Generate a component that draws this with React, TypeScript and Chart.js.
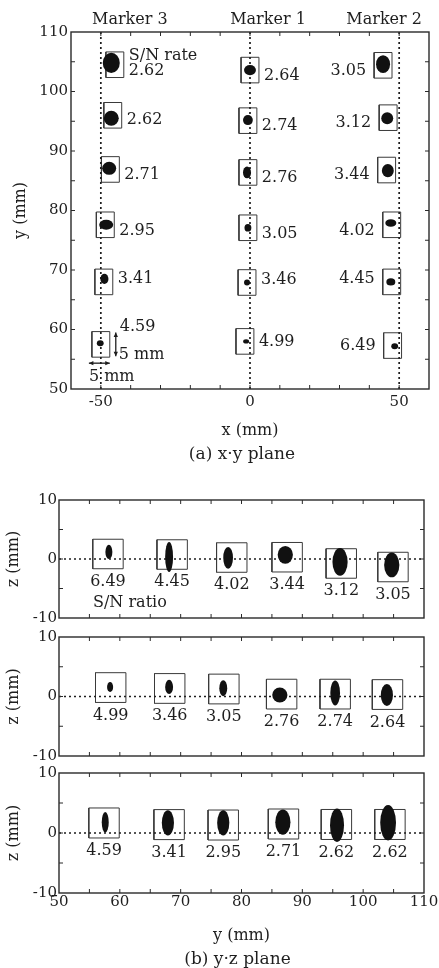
import { useEffect, useRef } from 'react';
import { Chart, registerables } from 'chart.js';

Chart.register(...registerables);

const PAGE_W = 439;
const PAGE_H = 968;
const FONT = '"DejaVu Serif", "Liberation Serif", serif';
const INK = '#1e1e1e';

// ---------------- (a) x-y plane ----------------
// every row list runs from the lowest position (y ≈ 57 mm) up to the highest (y ≈ 105 mm)
const MARKER_NAMES = ['Marker 3', 'Marker 1', 'Marker 2'];
const MARKER_X = [-50, 0, 50];

const SN_MARKER3 = [4.59, 3.41, 2.95, 2.71, 2.62, 2.62];
const SN_MARKER1 = [4.99, 3.46, 3.05, 2.76, 2.74, 2.64];
const SN_MARKER2 = [6.49, 4.45, 4.02, 3.44, 3.12, 3.05];

// centres of the 5 mm windows (mm)
const XY_WIN_X_M3 = [-50.0, -49.0, -48.5, -46.8, -46.0, -45.3];
const XY_WIN_Y_M3 = [57.5, 68.0, 77.6, 86.9, 96.0, 104.5];
const XY_WIN_X_M1 = [-1.7, -1.0, -0.7, -0.7, -0.7, 0.0];
const XY_WIN_Y_M1 = [58.0, 67.9, 77.1, 86.4, 95.1, 103.6];
const XY_WIN_X_M2 = [47.8, 47.5, 47.5, 45.8, 46.3, 44.6];
const XY_WIN_Y_M2 = [57.3, 68.0, 77.6, 86.8, 95.6, 104.4];

// measured point clouds: centre and full extent (mm)
const XY_CLOUD_X_M3 = [-50.2, -48.8, -48.2, -47.2, -46.5, -46.5];
const XY_CLOUD_Y_M3 = [57.7, 68.5, 77.6, 87.1, 95.5, 104.8];
const XY_CLOUD_DX_M3 = [2.3, 2.7, 4.7, 4.7, 5.0, 5.7];
const XY_CLOUD_DY_M3 = [1.0, 1.7, 1.7, 2.2, 2.5, 3.4];

const XY_CLOUD_X_M1 = [-1.3, -1.0, -0.7, -1.0, -0.7, 0.0];
const XY_CLOUD_Y_M1 = [58.0, 67.9, 77.1, 86.4, 95.2, 103.6];
const XY_CLOUD_DX_M1 = [2.0, 2.0, 2.3, 2.7, 3.3, 4.0];
const XY_CLOUD_DY_M1 = [0.7, 1.0, 1.3, 2.0, 1.7, 1.7];

const XY_CLOUD_X_M2 = [48.5, 47.2, 47.2, 46.2, 46.0, 44.6];
const XY_CLOUD_Y_M2 = [57.2, 68.0, 77.9, 86.7, 95.5, 104.6];
const XY_CLOUD_DX_M2 = [2.3, 3.0, 3.7, 4.0, 4.0, 4.7];
const XY_CLOUD_DY_M2 = [1.0, 1.2, 1.3, 2.2, 2.0, 3.0];

const XY_X_LABELS = [-50, 0, 50];
const XY_Y_LABELS = [50, 60, 70, 80, 90, 100, 110];

// ---------------- (b) y-z plane ----------------
// panels from top to bottom: Marker 2, Marker 1, Marker 3
const YZ_WIN_Y_M2 = [58.05, 68.6, 78.4, 87.5, 96.4, 104.9];
const YZ_WIN_Z_M2 = [0.85, 0.76, 0.25, 0.3, -0.76, -1.36];
const YZ_CLOUD_Y_M2 = [58.2, 68.1, 77.8, 87.2, 96.2, 104.7];
const YZ_CLOUD_Z_M2 = [1.2, 0.35, 0.2, 0.7, -0.5, -1.0];
const YZ_CLOUD_DY_M2 = [1.15, 1.3, 1.6, 2.5, 2.5, 2.5];
const YZ_CLOUD_DZ_M2 = [2.4, 5.1, 3.7, 3.0, 4.7, 4.2];

const YZ_WIN_Y_M1 = [58.5, 68.2, 77.1, 86.6, 95.4, 104.0];
const YZ_WIN_Z_M1 = [1.5, 1.35, 1.26, 0.4, 0.4, 0.33];
const YZ_CLOUD_Y_M1 = [58.4, 68.1, 77.0, 86.3, 95.4, 103.9];
const YZ_CLOUD_Z_M1 = [1.6, 1.6, 1.4, 0.25, 0.6, 0.25];
const YZ_CLOUD_DY_M1 = [1.0, 1.3, 1.3, 2.5, 1.6, 2.0];
const YZ_CLOUD_DZ_M1 = [1.7, 2.4, 2.7, 2.5, 4.2, 3.7];

const YZ_WIN_Y_M3 = [57.4, 68.1, 77.0, 86.9, 95.6, 104.4];
const YZ_WIN_Z_M3 = [1.67, 1.4, 1.33, 1.5, 1.42, 1.42];
const YZ_CLOUD_Y_M3 = [57.6, 67.9, 77.0, 86.8, 95.7, 104.1];
const YZ_CLOUD_Z_M3 = [1.8, 1.7, 1.7, 1.8, 1.3, 1.7];
const YZ_CLOUD_DY_M3 = [1.15, 2.0, 2.0, 2.5, 2.3, 2.6];
const YZ_CLOUD_DZ_M3 = [3.4, 4.2, 4.2, 4.2, 5.6, 5.9];

const YZ_Y_LABELS = [50, 60, 70, 80, 90, 100, 110];
const YZ_Z_LABELS = [-10, 0, 10];

// window size (mm) as drawn in each plane
const XY_WIN = { w: 6, h: 4.3 };
const YZ_WIN = { w: 5, h: 5 };

type Group = {
  sn: number[];
  winX: number[];
  winY: number[];
  cloudX: number[];
  cloudY: number[];
  cloudDX: number[];
  cloudDY: number[];
};

const XY_GROUPS: Group[] = [
  { sn: SN_MARKER3, winX: XY_WIN_X_M3, winY: XY_WIN_Y_M3, cloudX: XY_CLOUD_X_M3, cloudY: XY_CLOUD_Y_M3, cloudDX: XY_CLOUD_DX_M3, cloudDY: XY_CLOUD_DY_M3 },
  { sn: SN_MARKER1, winX: XY_WIN_X_M1, winY: XY_WIN_Y_M1, cloudX: XY_CLOUD_X_M1, cloudY: XY_CLOUD_Y_M1, cloudDX: XY_CLOUD_DX_M1, cloudDY: XY_CLOUD_DY_M1 },
  { sn: SN_MARKER2, winX: XY_WIN_X_M2, winY: XY_WIN_Y_M2, cloudX: XY_CLOUD_X_M2, cloudY: XY_CLOUD_Y_M2, cloudDX: XY_CLOUD_DX_M2, cloudDY: XY_CLOUD_DY_M2 },
];

const YZ_GROUPS: Group[] = [
  { sn: SN_MARKER2, winX: YZ_WIN_Y_M2, winY: YZ_WIN_Z_M2, cloudX: YZ_CLOUD_Y_M2, cloudY: YZ_CLOUD_Z_M2, cloudDX: YZ_CLOUD_DY_M2, cloudDY: YZ_CLOUD_DZ_M2 },
  { sn: SN_MARKER1, winX: YZ_WIN_Y_M1, winY: YZ_WIN_Z_M1, cloudX: YZ_CLOUD_Y_M1, cloudY: YZ_CLOUD_Z_M1, cloudDX: YZ_CLOUD_DY_M1, cloudDY: YZ_CLOUD_DZ_M1 },
  { sn: SN_MARKER3, winX: YZ_WIN_Y_M3, winY: YZ_WIN_Z_M3, cloudX: YZ_CLOUD_Y_M3, cloudY: YZ_CLOUD_Z_M3, cloudDX: YZ_CLOUD_DY_M3, cloudDY: YZ_CLOUD_DZ_M3 },
];

const font = (size: number) => ({ family: FONT, size, weight: 'normal' as const });
const cssFont = (size: number) => `${size}px ${FONT}`;

function windowDataset(cx: number, cy: number, w: number, h: number) {
  const l = cx - w / 2, r = cx + w / 2, b = cy - h / 2, t = cy + h / 2;
  return {
    data: [
      { x: l, y: b }, { x: r, y: b }, { x: r, y: t }, { x: l, y: t }, { x: l, y: b },
    ],
    showLine: true,
    borderColor: '#3a3a3a',
    borderWidth: 1,
    pointRadius: 0,
    fill: false,
  };
}

function dottedDataset(points: { x: number; y: number }[]) {
  return {
    data: points,
    showLine: true,
    borderColor: INK,
    borderWidth: 1.7,
    borderDash: [2, 3],
    pointRadius: 0,
    fill: false,
  };
}

// plot frame with short inward tick marks on all four sides
const framePlugin = {
  id: 'frameTicks',
  afterDatasetsDraw(chart: any) {
    const { ctx, chartArea: a, scales } = chart;
    const len = 4;
    ctx.save();
    ctx.strokeStyle = '#2a2a2a';
    ctx.lineWidth = 1;
    ctx.beginPath();
    for (const t of scales.x.ticks) {
      const p = scales.x.getPixelForValue(t.value);
      if (p <= a.left + 1 || p >= a.right - 1) continue;
      ctx.moveTo(p, a.top);
      ctx.lineTo(p, a.top + len);
      ctx.moveTo(p, a.bottom);
      ctx.lineTo(p, a.bottom - len);
    }
    for (const t of scales.y.ticks) {
      const p = scales.y.getPixelForValue(t.value);
      if (p <= a.top + 1 || p >= a.bottom - 1) continue;
      ctx.moveTo(a.left, p);
      ctx.lineTo(a.left + len, p);
      ctx.moveTo(a.right, p);
      ctx.lineTo(a.right - len, p);
    }
    ctx.stroke();
    ctx.lineWidth = 1.4;
    ctx.strokeRect(a.left, a.top, a.right - a.left, a.bottom - a.top);
    ctx.restore();
  },
};

function drawClouds(chart: any, g: Group) {
  const { ctx, scales } = chart;
  const sx = scales.x, sy = scales.y;
  ctx.save();
  ctx.fillStyle = '#111';
  g.cloudX.forEach((cx, i) => {
    const px = sx.getPixelForValue(cx);
    const py = sy.getPixelForValue(g.cloudY[i]);
    const rx = Math.abs(sx.getPixelForValue(cx + g.cloudDX[i] / 2) - px);
    const ry = Math.abs(sy.getPixelForValue(g.cloudY[i] + g.cloudDY[i] / 2) - py);
    ctx.beginPath();
    ctx.ellipse(px, py, rx, ry, 0, 0, Math.PI * 2);
    ctx.fill();
  });
  ctx.restore();
}

function arrow(ctx: CanvasRenderingContext2D, x1: number, y1: number, x2: number, y2: number) {
  const ang = Math.atan2(y2 - y1, x2 - x1);
  const head = 5;
  ctx.beginPath();
  ctx.moveTo(x1, y1);
  ctx.lineTo(x2, y2);
  ctx.stroke();
  for (const [x, y, a] of [[x1, y1, ang + Math.PI], [x2, y2, ang]] as number[][]) {
    ctx.beginPath();
    ctx.moveTo(x, y);
    ctx.lineTo(x - head * Math.cos(a - 0.45), y - head * Math.sin(a - 0.45));
    ctx.lineTo(x - head * Math.cos(a + 0.45), y - head * Math.sin(a + 0.45));
    ctx.closePath();
    ctx.fill();
  }
}

// vertical nudge (px) of the value labels, per row from bottom to top
const ROW_NUDGE = [0, -3, 6, 5, 5, 6];

const xyAnnotations = {
  id: 'xyAnnotations',
  afterDatasetsDraw(chart: any) {
    const { ctx, chartArea: a, scales } = chart;
    const sx = scales.x, sy = scales.y;
    XY_GROUPS.forEach((g) => drawClouds(chart, g));

    ctx.save();
    ctx.fillStyle = INK;
    ctx.strokeStyle = INK;
    ctx.font = cssFont(16);
    ctx.textBaseline = 'middle';

    XY_GROUPS.forEach((g, k) => {
      g.sn.forEach((v, i) => {
        const left = sx.getPixelForValue(g.winX[i] - XY_WIN.w / 2);
        const right = sx.getPixelForValue(g.winX[i] + XY_WIN.w / 2);
        const top = sy.getPixelForValue(g.winY[i] + XY_WIN.h / 2);
        const mid = sy.getPixelForValue(g.winY[i]);
        const text = v.toFixed(2);
        if (k === 2) {
          ctx.textAlign = 'right';
          ctx.fillText(text, left - 8, mid + ROW_NUDGE[i]);
        } else if (k === 0 && i === 0) {
          ctx.textAlign = 'left';
          ctx.fillText(text, right + 10, top - 5);
        } else {
          ctx.textAlign = 'left';
          ctx.fillText(text, right + 5, mid + ROW_NUDGE[i]);
        }
        if (k === 0 && i === g.sn.length - 1) {
          ctx.textAlign = 'left';
          ctx.fillText('S/N rate', right + 5, mid + ROW_NUDGE[i] - 15);
        }
      });
    });

    // 5 mm scale hints around the lowest Marker 3 window
    const g = XY_GROUPS[0];
    const L = sx.getPixelForValue(g.winX[0] - XY_WIN.w / 2);
    const R = sx.getPixelForValue(g.winX[0] + XY_WIN.w / 2);
    const T = sy.getPixelForValue(g.winY[0] + XY_WIN.h / 2);
    const B = sy.getPixelForValue(g.winY[0] - XY_WIN.h / 2);
    ctx.lineWidth = 1.3;
    arrow(ctx, R + 6, T + 1, R + 6, B - 1);
    arrow(ctx, L - 3, B + 6, R, B + 6);
    ctx.textAlign = 'left';
    ctx.fillText('5 mm', R + 9, B - 2);
    ctx.fillText('5 mm', L - 3, B + 20);
    ctx.restore();
  },
  afterDraw(chart: any) {
    const { ctx, chartArea: a, scales } = chart;
    const shift = [29, 18, -15];
    ctx.save();
    ctx.fillStyle = INK;
    ctx.textBaseline = 'middle';
    ctx.textAlign = 'center';
    ctx.font = cssFont(16);
    MARKER_NAMES.forEach((name, k) => {
      ctx.fillText(name, scales.x.getPixelForValue(MARKER_X[k]) + shift[k], a.top - 12);
    });
    ctx.font = cssFont(17);
    ctx.fillText('(a) x\u00b7y plane', (a.left + a.right) / 2 - 8, a.bottom + 66);
    ctx.restore();
  },
};

function labelCallback(list: number[]) {
  return (v: any) => (list.includes(Number(v)) ? String(v) : '');
}

function buildXY(canvas: HTMLCanvasElement) {
  const datasets: any[] = [];
  MARKER_X.forEach((m) => datasets.push(dottedDataset([{ x: m, y: 50 }, { x: m, y: 110 }])));
  XY_GROUPS.forEach((g) =>
    g.winX.forEach((x, i) => datasets.push(windowDataset(x, g.winY[i], XY_WIN.w, XY_WIN.h)))
  );
  return new Chart(canvas, {
    type: 'scatter',
    data: { datasets },
    options: {
      responsive: false,
      maintainAspectRatio: false,
      animation: false,
      events: [],
      layout: { padding: { left: 0, top: 32, right: 10, bottom: PAGE_H - 389 - 57 } },
      plugins: { legend: { display: false }, tooltip: { enabled: false } },
      scales: {
        x: {
          type: 'linear',
          min: -60,
          max: 60,
          grid: { display: false, drawTicks: false },
          border: { display: false },
          ticks: { stepSize: 10, autoSkip: false, maxRotation: 0, padding: 4, color: INK, font: font(15), callback: labelCallback(XY_X_LABELS) },
          title: { display: true, text: 'x (mm)', color: INK, font: font(16), padding: { top: 0, bottom: 6 } },
          afterFit: (s: any) => {
            s.height = 57;
            s.paddingLeft = 0;
            s.paddingRight = 0;
          },
        },
        y: {
          type: 'linear',
          min: 50,
          max: 110,
          grid: { display: false, drawTicks: false },
          border: { display: false },
          ticks: { stepSize: 5, autoSkip: false, padding: 3, color: INK, font: font(15), callback: labelCallback(XY_Y_LABELS) },
          title: { display: true, text: 'y (mm)', color: INK, font: font(16), padding: { top: 11, bottom: 0 } },
          afterFit: (s: any) => {
            s.width = 71;
            s.paddingTop = 0;
            s.paddingBottom = 0;
          },
        },
      },
    } as any,
    plugins: [framePlugin, xyAnnotations],
  });
}

// chart-area top and bottom of the three stacked y-z panels (px)
const PANEL_TOP = [500, 637, 773];
const PANEL_BOTTOM = [618, 756, 893];

function yzAnnotations(panel: number) {
  const g = YZ_GROUPS[panel];
  return {
    id: 'yzAnnotations',
    afterDatasetsDraw(chart: any) {
      const { ctx, chartArea: a, scales } = chart;
      const sx = scales.x, sy = scales.y;
      drawClouds(chart, g);
      ctx.save();
      ctx.fillStyle = INK;
      ctx.font = cssFont(16);
      ctx.textBaseline = 'middle';
      ctx.textAlign = 'center';
      g.sn.forEach((v, i) => {
        const cx = sx.getPixelForValue(g.winX[i]);
        const bottom = sy.getPixelForValue(g.winY[i] - YZ_WIN.h / 2);
        ctx.fillText(v.toFixed(2), cx, bottom + 13);
      });
      if (panel === 0) {
        ctx.textAlign = 'left';
        ctx.fillText('S/N ratio', a.left + 34, a.bottom - 15);
      }
      ctx.restore();
    },
    afterDraw(chart: any) {
      if (panel !== 2) return;
      const { ctx, chartArea: a } = chart;
      ctx.save();
      ctx.fillStyle = INK;
      ctx.textBaseline = 'middle';
      ctx.textAlign = 'center';
      ctx.font = cssFont(17);
      ctx.fillText('(b) y\u00b7z plane', (a.left + a.right) / 2 - 4, a.bottom + 67);
      ctx.restore();
    },
  };
}

function buildYZ(canvas: HTMLCanvasElement, panel: number) {
  const g = YZ_GROUPS[panel];
  const last = panel === 2;
  const datasets: any[] = [dottedDataset([{ x: 50, y: 0 }, { x: 110, y: 0 }])];
  g.winX.forEach((x, i) => datasets.push(windowDataset(x, g.winY[i], YZ_WIN.w, YZ_WIN.h)));
  const xHeight = last ? 57 : 0;
  return new Chart(canvas, {
    type: 'scatter',
    data: { datasets },
    options: {
      responsive: false,
      maintainAspectRatio: false,
      animation: false,
      events: [],
      layout: {
        padding: { left: 0, top: PANEL_TOP[panel], right: 15, bottom: PAGE_H - PANEL_BOTTOM[panel] - xHeight },
      },
      plugins: { legend: { display: false }, tooltip: { enabled: false } },
      scales: {
        x: {
          type: 'linear',
          min: 50,
          max: 110,
          grid: { display: false, drawTicks: false },
          border: { display: false },
          ticks: { display: last, stepSize: 5, autoSkip: false, maxRotation: 0, padding: 0, color: INK, font: font(15), callback: labelCallback(YZ_Y_LABELS) },
          title: { display: last, text: 'y (mm)', color: INK, font: font(16), padding: { top: 0, bottom: 5 } },
          afterFit: (s: any) => {
            s.height = xHeight;
            s.paddingLeft = 0;
            s.paddingRight = 0;
          },
        },
        y: {
          type: 'linear',
          min: -10,
          max: 10,
          grid: { display: false, drawTicks: false },
          border: { display: false },
          ticks: { stepSize: 5, autoSkip: false, padding: 2, color: INK, font: font(15), callback: labelCallback(YZ_Z_LABELS) },
          title: { display: true, text: 'z (mm)', color: INK, font: font(16), padding: { top: 4, bottom: 0 } },
          afterFit: (s: any) => {
            s.width = 59;
            s.paddingTop = 0;
            s.paddingBottom = 0;
          },
        },
      },
    } as any,
    plugins: [framePlugin, yzAnnotations(panel)],
  });
}

export default function App() {
  const canvases = useRef<(HTMLCanvasElement | null)[]>([]);

  useEffect(() => {
    const c = canvases.current;
    const charts = [buildXY(c[0]!), buildYZ(c[1]!, 0), buildYZ(c[2]!, 1), buildYZ(c[3]!, 2)];
    return () => charts.forEach((ch) => ch.destroy());
  }, []);

  return (
    <div style={{ position: 'absolute', left: 0, top: 0, width: PAGE_W, height: PAGE_H, background: '#fff' }}>
      {[0, 1, 2, 3].map((i) => (
        <canvas
          key={i}
          ref={(el) => {
            canvases.current[i] = el;
          }}
          width={PAGE_W}
          height={PAGE_H}
          style={{ position: 'absolute', left: 0, top: 0, width: PAGE_W, height: PAGE_H }}
        />
      ))}
    </div>
  );
}
